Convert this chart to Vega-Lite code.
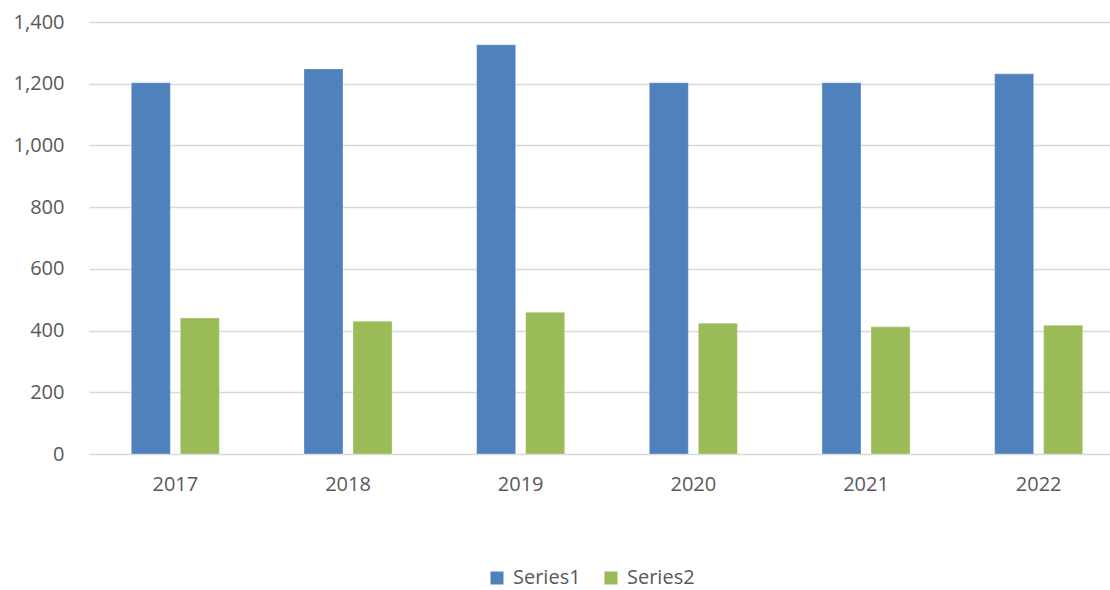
{
  "$schema": "https://vega.github.io/schema/vega-lite/v6.json",
  "width": 1021,
  "height": 432,
  "autosize": {"type": "none"},
  "padding": {"left": 89, "top": 22, "right": 0, "bottom": 136},
  "background": "white",
  "config": {
    "view": {"stroke": null},
    "font": "Open Sans"
  },
  "data": {
    "values": [
      {"year": "2017", "series": "Series1", "value": 1203},
      {"year": "2017", "series": "Series2", "value": 441},
      {"year": "2018", "series": "Series1", "value": 1248},
      {"year": "2018", "series": "Series2", "value": 430},
      {"year": "2019", "series": "Series1", "value": 1326},
      {"year": "2019", "series": "Series2", "value": 459},
      {"year": "2020", "series": "Series1", "value": 1203},
      {"year": "2020", "series": "Series2", "value": 424},
      {"year": "2021", "series": "Series1", "value": 1203},
      {"year": "2021", "series": "Series2", "value": 412},
      {"year": "2022", "series": "Series1", "value": 1232},
      {"year": "2022", "series": "Series2", "value": 417}
    ]
  },
  "mark": {"type": "bar", "stroke": "#ffffff", "strokeWidth": 0.6, "strokeOpacity": 0.5},
  "encoding": {
    "x": {
      "field": "year",
      "type": "nominal",
      "scale": {"range": [0, 1036], "paddingInner": 0.49, "paddingOuter": 0.245},
      "axis": {
        "title": null,
        "labelAngle": 0,
        "ticks": false,
        "domain": false,
        "labelFontSize": 20,
        "labelColor": "#595959",
        "labelPadding": 20
      }
    },
    "xOffset": {
      "field": "series",
      "type": "nominal",
      "scale": {"paddingInner": 0.204, "paddingOuter": 0}
    },
    "y": {
      "field": "value",
      "type": "quantitative",
      "scale": {"domain": [0, 1400], "nice": false},
      "axis": {
        "title": null,
        "values": [0, 200, 400, 600, 800, 1000, 1200, 1400],
        "format": ",.0f",
        "ticks": false,
        "domain": false,
        "gridColor": "#d9d9d9",
        "gridWidth": 1.5,
        "labelFontSize": 20,
        "labelColor": "#595959",
        "labelPadding": 25
      }
    },
    "color": {
      "field": "series",
      "type": "nominal",
      "scale": {"domain": ["Series1", "Series2"], "range": ["#4F81BD", "#9BBB59"]},
      "legend": {
        "title": null,
        "orient": "none",
        "direction": "horizontal",
        "legendX": 398,
        "legendY": 546,
        "symbolType": "square",
        "symbolSize": 169,
        "symbolStrokeWidth": 0,
        "labelFontSize": 20,
        "labelColor": "#595959",
        "labelOffset": 6,
        "columnPadding": 20
      }
    }
  }
}
